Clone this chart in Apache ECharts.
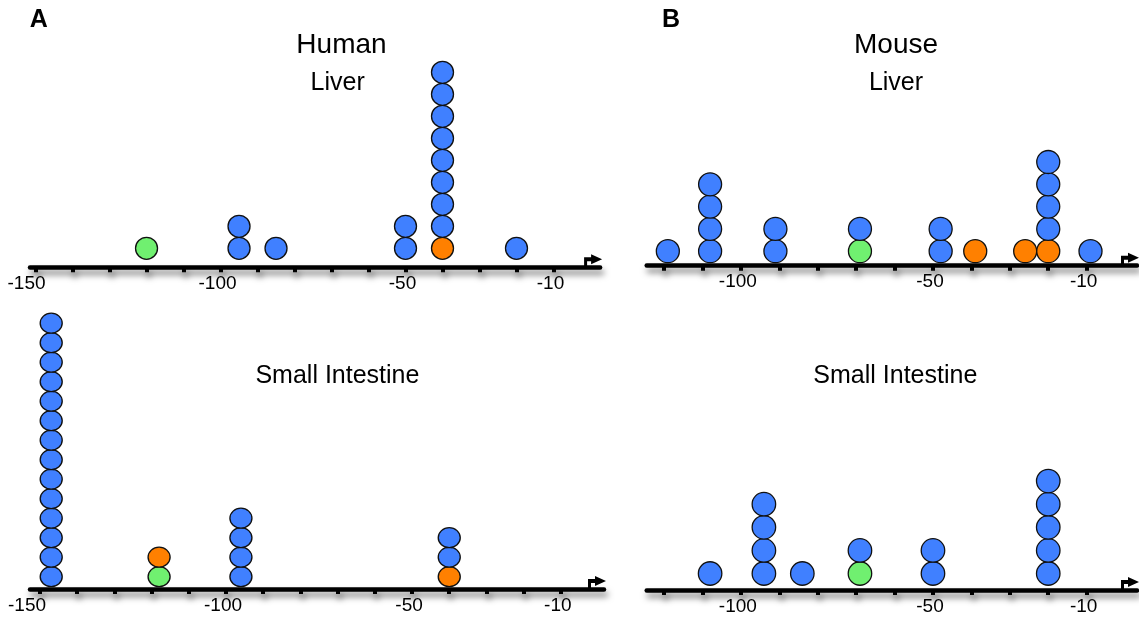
<!DOCTYPE html>
<html>
<head>
<meta charset="utf-8">
<title>Dot plots</title>
<script src="https://cdn.jsdelivr.net/npm/echarts@6/dist/echarts.min.js"></script>
<style>
    html, body { margin: 0; padding: 0; background: #fff; }
    #dotChart { width: 1139px; height: 619px; }
</style>
</head>
<body>
<div id="dotChart"></div>
<script>
// tick / label values
var humanTicks = [-150, -140, -130, -120, -110, -100, -90, -80, -70, -60, -50, -40, -30, -20, -10];
var humanLabels = [-150, -100, -50, -10];
var mouseTicks = [-120, -110, -100, -90, -80, -70, -60, -50, -40, -30, -20, -10];
var mouseLabels = [-100, -50, -10];

// Human - liver
var humanLiverSites = [-120, -95, -85, -50, -40, -20];
var humanLiverGreen = [1, 0, 0, 0, 0, 0];
var humanLiverOrange = [0, 0, 0, 0, 1, 0];
var humanLiverBlue = [0, 2, 1, 2, 8, 1];

// Human - small intestine
var humanGutSites = [-147, -118, -96, -40];
var humanGutGreen = [0, 1, 0, 0];
var humanGutOrange = [0, 1, 0, 1];
var humanGutBlue = [14, 0, 4, 2];

// Mouse - liver
var mouseLiverSites = [-119, -108, -91, -69, -48, -39, -26, -20, -9];
var mouseLiverGreen = [0, 0, 0, 1, 0, 0, 0, 0, 0];
var mouseLiverOrange = [0, 0, 0, 0, 0, 1, 1, 1, 0];
var mouseLiverBlue = [1, 4, 2, 1, 2, 0, 0, 4, 1];

// Mouse - small intestine
var mouseGutSites = [-108, -94, -84, -69, -50, -20];
var mouseGutGreen = [0, 0, 0, 1, 0, 0];
var mouseGutOrange = [0, 0, 0, 0, 0, 0];
var mouseGutBlue = [1, 4, 1, 1, 2, 5];

var BLUE = '#4080ff', ORANGE = '#ff8000', GREEN = '#70f070';
var FONT = '"Liberation Sans", Arial, Helvetica, sans-serif';
var arrowPath = 'path://M12,18L3,18L3,11L0,11L5,0L10,11L7,11L7,15L12,15Z M26,8L26,8.01L25.99,8Z';
var shadow = {shadowColor: 'rgba(0,0,0,0.5)', shadowBlur: 6, shadowOffsetX: 2, shadowOffsetY: 5};

// green at the bottom, then orange, then blue on top
var stackDots = function (sites, green, orange, blue) {
    var g = [], o = [], b = [];
    for (var i = 0; i < sites.length; i++) {
        var level = 1, n;
        for (n = 0; n < green[i]; n++) g.push([sites[i], level++]);
        for (n = 0; n < orange[i]; n++) o.push([sites[i], level++]);
        for (n = 0; n < blue[i]; n++) b.push([sites[i], level++]);
    }
    return {green: g, orange: o, blue: b};
};

var panels = [
    stackDots(humanLiverSites, humanLiverGreen, humanLiverOrange, humanLiverBlue),
    stackDots(mouseLiverSites, mouseLiverGreen, mouseLiverOrange, mouseLiverBlue),
    stackDots(humanGutSites, humanGutGreen, humanGutOrange, humanGutBlue),
    stackDots(mouseGutSites, mouseGutGreen, mouseGutOrange, mouseGutBlue)
];
var dotSizes = [22, 23, [22, 20], 23.5];

var makeXAxis = function (idx, min, max, ticks, labels, firstShift) {
    return {
        type: 'value', gridIndex: idx, min: min, max: max, position: 'bottom',
        splitLine: {show: false},
        axisLine: {
            show: true, onZero: false,
            symbol: ['none', arrowPath], symbolSize: [26, 18], symbolOffset: [0, -7],
            lineStyle: Object.assign({color: '#000', width: 4.5}, shadow)
        },
        axisTick: {
            show: true, customValues: ticks, length: 5,
            lineStyle: Object.assign({color: '#000', width: 4}, shadow)
        },
        axisLabel: {
            show: true, customValues: labels, margin: 7,
            color: '#000', fontSize: 19, fontFamily: FONT,
            formatter: function (v) {
                return (v === -150 ? '{far|' : '{std|') + v + '}';
            },
            rich: {
                far: {fontSize: 19, fontFamily: FONT, color: '#000', padding: [0, firstShift * 2, 0, 0]},
                std: {fontSize: 19, fontFamily: FONT, color: '#000', padding: [0, 6, 0, 0]}
            }
        }
    };
};

var makeYAxis = function (idx, min, rows) {
    return {type: 'value', gridIndex: idx, min: min, max: min + rows, show: false};
};

var series = [];
var colors = {green: GREEN, orange: ORANGE, blue: BLUE};
panels.forEach(function (p, idx) {
    ['green', 'orange', 'blue'].forEach(function (key) {
        series.push({
            type: 'scatter', xAxisIndex: idx, yAxisIndex: idx,
            symbol: 'circle', symbolSize: dotSizes[idx],
            itemStyle: {color: colors[key], borderColor: '#111', borderWidth: 1.3, opacity: 1},
            data: p[key]
        });
    });
});

var title = function (text, x, y, size, weight) {
    return {
        type: 'text', x: x, y: y, silent: true,
        style: {
            text: text, fill: '#000',
            font: (weight || 'normal') + ' ' + size + 'px ' + FONT,
            textAlign: 'center', align: 'center',
            textVerticalAlign: 'middle', verticalAlign: 'middle'
        }
    };
};

var myChart = echarts.init(document.getElementById("dotChart"));
option = {
    backgroundColor: '#fff',
    animation: false,
    grid: [
        {left: 30, top: 47.3, width: 570.1, height: 220, containLabel: false, outerBoundsMode: 'none'},
        {left: 646.7, top: 42.7, width: 490.3, height: 223, containLabel: false, outerBoundsMode: 'none'},
        {left: 30, top: 296.5, width: 574, height: 292.5, containLabel: false, outerBoundsMode: 'none'},
        {left: 646.7, top: 359, width: 490.3, height: 231, containLabel: false, outerBoundsMode: 'none'}
    ],
    xAxis: [
        makeXAxis(0, -151.5, 2.6, humanTicks, humanLabels, 9),
        makeXAxis(1, -124.5, 3.1, mouseTicks, mouseLabels, 3),
        makeXAxis(2, -152.7, 1.6, humanTicks, humanLabels, 13),
        makeXAxis(3, -124.5, 3.1, mouseTicks, mouseLabels, 3)
    ],
    yAxis: [
        makeYAxis(0, 0.136, 10),
        makeYAxis(1, 0.35, 10),
        makeYAxis(2, 0.369, 15),
        makeYAxis(3, 0.286, 10)
    ],
    graphic: [
        title('A', 38.8, 20.5, 25, 'bold'),
        title('B', 671, 20.5, 25, 'bold'),
        title('Human', 341.5, 45.4, 28),
        title('Liver', 337.7, 83.2, 25),
        title('Mouse', 896, 44.9, 28),
        title('Liver', 896, 83.2, 25),
        title('Small Intestine', 337.4, 376, 25),
        title('Small Intestine', 895.3, 376.3, 25)
    ],
    series: series
};
myChart.setOption(option);
</script>
</body>
</html>
